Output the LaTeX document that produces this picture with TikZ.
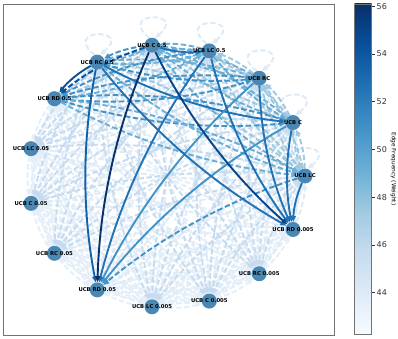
\documentclass[tikz,border=0pt]{standalone}
\usepackage{fontspec}
\setsansfont{DejaVu Sans}
\usetikzlibrary{arrows.meta}
\definecolor{b0}{HTML}{F7FBFF}
\definecolor{b1}{HTML}{DEEBF7}
\definecolor{b2}{HTML}{C6DBEF}
\definecolor{b3}{HTML}{9ECAE1}
\definecolor{b4}{HTML}{6BAED6}
\definecolor{b5}{HTML}{4292C6}
\definecolor{b6}{HTML}{2171B5}
\definecolor{b7}{HTML}{08519C}
\definecolor{b8}{HTML}{08306B}
\colorlet{faint}{b1!75!b0}
\definecolor{nodefill}{HTML}{4A87B3}
\pgfdeclarelayer{bg}
\pgfdeclarelayer{edges}
\pgfsetlayers{bg,edges,main}
\pgfdeclareverticalshading{bluesbar}{100bp}{color(0bp)=(b0); color(25bp)=(b0); color(31.25bp)=(b1); color(37.5bp)=(b2); color(43.75bp)=(b3); color(50bp)=(b4); color(56.25bp)=(b5); color(62.5bp)=(b6); color(68.75bp)=(b7); color(75bp)=(b8); color(100bp)=(b8)}
\begin{document}
\begin{tikzpicture}[x=1pt,y=1pt,
  vtx/.style={circle, fill=nodefill, minimum size=15pt, inner sep=0pt},
  lbl/.style={font=\sffamily\bfseries\fontsize{5.3}{6}\selectfont, text=black, inner sep=0pt},
  edg/.style={line width=1.9pt, -{Triangle[length=6pt,width=5pt]}, bend right=11, looseness=0.87},
  dsh/.style={dash pattern=on 5.5pt off 2.6pt},
  loopedge/.style={line width=1.9pt, dash pattern=on 5.5pt off 2.6pt, color=b1, -{Triangle[length=6pt,width=5pt]}},
  frame/.style={draw=black!55, line width=0.8pt},
  ticklbl/.style={font=\sffamily\fontsize{8}{9}\selectfont, inner sep=0pt, anchor=west}
]
\useasboundingbox (0,0) rectangle (398,-339);
\begin{pgfonlayer}{bg}
\fill[white] (0,0) rectangle (398,-339);
\end{pgfonlayer}
\draw[frame] (3.3,-4.3) rectangle (334.3,-335);

% nodes on the circle
\foreach \k/\t in {0/UCB LC,1/UCB C,2/UCB RC,3/UCB LC 0.5,4/UCB C 0.5,5/UCB RC 0.5,6/UCB RD 0.5,7/UCB LC 0.05,8/UCB C 0.05,9/UCB RC 0.05,10/UCB RD 0.05,11/UCB LC 0.005,12/UCB C 0.005,13/UCB RC 0.005,14/UCB RD 0.005}{
  \node[vtx, label={[lbl]center:\t}] (n\k) at ({166.5+138.5*cos(24*\k)},{-176+131.5*sin(24*\k)}) {};
}

\begin{pgfonlayer}{edges}
% faint edges among low and RD nodes
\foreach \i in {7,...,14}{
  \foreach \j in {6,...,14}{
    \ifnum\i=\j\relax\else
      \draw[edg,dsh,color=faint] (n\i) to (n\j);
    \fi
  }
}
\foreach \j in {7,...,14}{
  \draw[edg,dsh,color=faint] (n6) to (n\j);
}
% low and RD nodes back to the source nodes
\foreach \i in {7,...,14}{
  \foreach \j in {0,...,5}{
    \draw[edg,dsh,color=b1] (n\i) to (n\j);
  }
}
% source nodes to low nodes
\foreach \i in {0,...,5}{
  \foreach \j in {7,8,9,11,12,13}{
    \draw[edg,dsh,color=b2] (n\i) to (n\j);
  }
}
% self loops
\foreach \k in {0,...,5}{
  \draw[loopedge] (n\k.110) .. controls +(141:43pt) and +(39:43pt) .. (n\k.70);
}
% among source nodes, from RD 0.5, and into the RD nodes
\foreach \i/\j/\c/\s in {0/1/b3/dsh,0/2/b3/dsh,0/3/b2/dsh,0/4/b3/dsh,0/5/b3/dsh,
  1/0/b3/dsh,1/2/b3/dsh,1/3/b3/dsh,1/4/b4/dsh,1/5/b3/dsh,
  2/0/b3/dsh,2/1/b3/dsh,2/3/b3/dsh,2/4/b4/dsh,2/5/b4/dsh,
  3/0/b3/dsh,3/1/b4/dsh,3/2/b3/dsh,3/4/b4/dsh,3/5/b4/dsh,
  4/0/b4/dsh,4/1/b4/dsh,4/2/b4/dsh,4/5/b5/dsh,
  5/0/b4/dsh,5/2/b5/dsh,5/3/b4/dsh,5/4/b4/dsh,
  6/0/b4/dsh,6/1/b5/dsh,6/2/b5/dsh,6/3/b4/dsh,6/4/b3/dsh,6/5/b3/dsh,
  0/6/b4/dsh,1/6/b5/dsh,2/6/b5/dsh,3/6/b5/dsh,0/10/b5/dsh,4/6/b7/dsh,
  4/3/b6/solid,5/1/b6/solid,
  2/10/b5/solid,1/10/b5/solid,
  0/14/b6/solid,1/14/b6/solid,2/14/b6/solid,3/14/b6/solid,3/10/b6/solid,
  5/14/b6/solid,5/10/b7!50!b6/solid,5/6/b7/solid,4/14/b7!60!b8/solid,4/10/b8/solid}{
  \draw[edg,\s,color=\c] (n\i) to (n\j);
}
\end{pgfonlayer}

% colour bar
\shade[shading=bluesbar] (354.7,-334) rectangle (371.7,-4);
\draw[draw=black!55, line width=0.6pt] (354.7,-334) rectangle (371.7,-4);
\foreach \v in {44,46,...,56}{
  \draw[black!80, line width=0.6pt] (371.7,{-6.3-(56-\v)*23.87}) -- ++(3.2,0)
    node[ticklbl, xshift=1.5pt] (t\v) {\v};
}
\node[rotate=-90, font=\sffamily\fontsize{5.8}{7}\selectfont, inner sep=0pt] (cblabel) at (393.5,-169) {Edge Frequency (Weight)};
\end{tikzpicture}
\end{document}
